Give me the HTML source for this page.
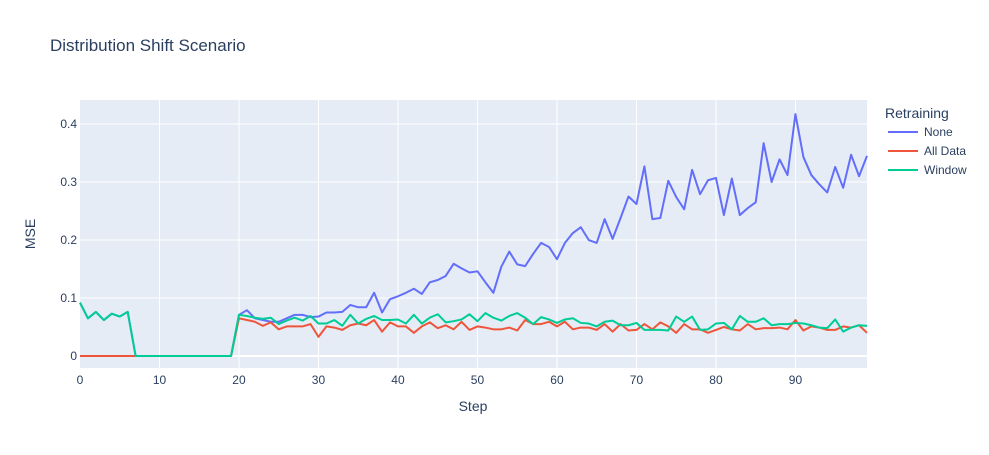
<!DOCTYPE html>
<html><head><meta charset="utf-8"><style>
body{margin:0;background:#fff;}
svg{font-family:"Liberation Sans",sans-serif;}
</style></head><body>
<svg id="chart" width="989" height="450" xmlns="http://www.w3.org/2000/svg">
<rect x="0" y="0" width="989" height="450" fill="#fff"/>
<text x="50" y="51" font-size="17" fill="#2a3f5f">Distribution Shift Scenario</text>
<rect x="80" y="100" width="787" height="268" fill="#e5ecf6"/>
<g id="grid"></g>
<g id="series"></g>
<g id="ticks"></g>
<text x="473" y="411" font-size="14" fill="#2a3f5f" text-anchor="middle">Step</text>
<text transform="translate(35,234) rotate(-90)" font-size="14" fill="#2a3f5f" text-anchor="middle">MSE</text>
<g>
<text x="885" y="118" font-size="14" fill="#2a3f5f">Retraining</text>
<g><line x1="888" y1="132" x2="918" y2="132" stroke="#636efa" stroke-width="2"/><text x="924" y="136" font-size="12" fill="#2a3f5f">None</text></g>
<g><line x1="888" y1="151" x2="918" y2="151" stroke="#ef553b" stroke-width="2"/><text x="924" y="155" font-size="12" fill="#2a3f5f">All Data</text></g>
<g><line x1="888" y1="170" x2="918" y2="170" stroke="#00cc96" stroke-width="2"/><text x="924" y="174" font-size="12" fill="#2a3f5f">Window</text></g>
</g>
</svg>
<script>
const xTicks=[0,10,20,30,40,50,60,70,80,90];
const yTicks=[0,0.1,0.2,0.3,0.4];
const yTickLabels=["0","0.1","0.2","0.3","0.4"];
const early=[0.092,0.065,0.076,0.062,0.073,0.068,0.076,0,0,0,0,0,0,0,0,0,0,0,0,0];
const noneVals=early.concat([0.071,0.079,0.065,0.062,0.059,0.059,0.065,0.071,0.071,0.067,0.068,0.075,0.075,0.076,0.088,0.084,0.084,0.109,0.075,0.098,0.103,0.109,0.116,0.107,0.127,0.131,0.138,0.159,0.151,0.144,0.146,0.127,0.109,0.154,0.18,0.158,0.155,0.176,0.195,0.188,0.167,0.195,0.212,0.222,0.2,0.195,0.236,0.202,0.238,0.275,0.262,0.327,0.236,0.238,0.302,0.274,0.253,0.321,0.279,0.303,0.307,0.243,0.306,0.243,0.255,0.265,0.367,0.3,0.339,0.312,0.417,0.343,0.312,0.296,0.282,0.326,0.29,0.347,0.31,0.345]);
const allDataVals=[0,0,0,0,0,0,0,0,0,0,0,0,0,0,0,0,0,0,0,0,0.065,0.062,0.059,0.052,0.058,0.046,0.051,0.051,0.051,0.055,0.033,0.051,0.049,0.045,0.053,0.056,0.053,0.062,0.042,0.058,0.051,0.051,0.040,0.051,0.058,0.048,0.053,0.046,0.059,0.045,0.051,0.049,0.046,0.046,0.049,0.044,0.062,0.055,0.055,0.059,0.051,0.059,0.046,0.049,0.049,0.045,0.055,0.042,0.055,0.044,0.045,0.055,0.046,0.058,0.051,0.040,0.055,0.046,0.046,0.040,0.045,0.050,0.046,0.044,0.055,0.046,0.048,0.048,0.049,0.046,0.062,0.044,0.051,0.049,0.045,0.045,0.051,0.049,0.053,0.040];
const windowVals=early.concat([0.071,0.069,0.066,0.064,0.066,0.055,0.061,0.066,0.061,0.069,0.056,0.056,0.062,0.052,0.071,0.056,0.064,0.069,0.062,0.062,0.063,0.056,0.071,0.056,0.066,0.072,0.058,0.060,0.063,0.072,0.060,0.074,0.066,0.061,0.069,0.074,0.066,0.055,0.067,0.063,0.057,0.063,0.065,0.057,0.056,0.051,0.059,0.061,0.053,0.053,0.057,0.045,0.045,0.045,0.044,0.068,0.059,0.068,0.045,0.046,0.056,0.057,0.046,0.069,0.059,0.059,0.065,0.053,0.055,0.055,0.057,0.056,0.053,0.049,0.048,0.063,0.042,0.049,0.053,0.052]);
const NS="http://www.w3.org/2000/svg";
const X0=80,X1=867,Y0=368,Y1=100,XMIN=0,XMAX=99,YMIN=-0.0207,YMAX=0.4414;
function xs(v){return X0+(v-XMIN)/(XMAX-XMIN)*(X1-X0);}
function ys(v){return Y0-(v-YMIN)/(YMAX-YMIN)*(Y0-Y1);}
const grid=document.getElementById('grid'),ticks=document.getElementById('ticks'),series=document.getElementById('series');
xTicks.forEach(t=>{
  if(t>0){const l=document.createElementNS(NS,'line');
  
  
  l.setAttribute('x1',xs(t));l.setAttribute('x2',xs(t));l.setAttribute('y1',Y1);l.setAttribute('y2',Y0);l.setAttribute('stroke','#fff');grid.appendChild(l);}
  const tx=document.createElementNS(NS,'text');
  
  
  tx.setAttribute('x',xs(t));tx.setAttribute('y',384);tx.setAttribute('font-size','12');tx.setAttribute('fill','#2a3f5f');tx.setAttribute('text-anchor','middle');tx.textContent=t;ticks.appendChild(tx);
});
yTicks.forEach((t,i)=>{
  const l=document.createElementNS(NS,'line');
  
  
  l.setAttribute('x1',X0);l.setAttribute('x2',X1);l.setAttribute('y1',ys(t));l.setAttribute('y2',ys(t));l.setAttribute('stroke','#fff');l.setAttribute('stroke-width',t===0?2:1);grid.appendChild(l);
  const tx=document.createElementNS(NS,'text');
  
  
  tx.setAttribute('x',77);tx.setAttribute('y',ys(t)+4);tx.setAttribute('font-size','12');tx.setAttribute('fill','#2a3f5f');tx.setAttribute('text-anchor','end');tx.textContent=yTickLabels[i];ticks.appendChild(tx);
});
function line(vals,color,name){
  const p=document.createElementNS(NS,'polyline');
  
  
  p.setAttribute('points',vals.map((v,i)=>xs(i)+','+ys(v)).join(' '));
  p.setAttribute('fill','none');p.setAttribute('stroke',color);p.setAttribute('stroke-width','2');p.setAttribute('stroke-linejoin','round');
  series.appendChild(p);
}
line(noneVals,'#636efa','series-none');
line(allDataVals,'#ef553b','series-all-data');
line(windowVals,'#00cc96','series-window');
</script>
</body></html>
